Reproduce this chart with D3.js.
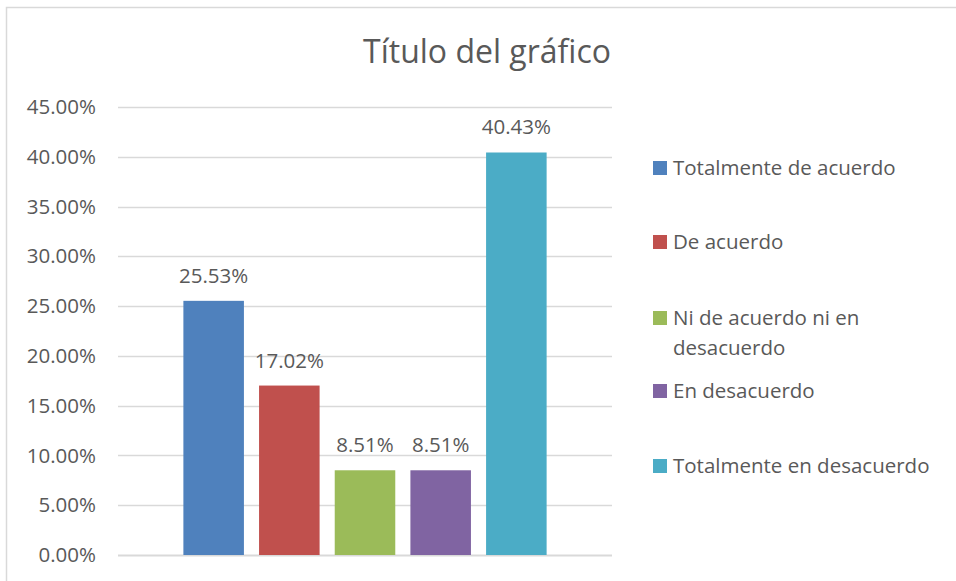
<!DOCTYPE html>
<html>
<head>
<meta charset="utf-8">
<script src="https://cdn.jsdelivr.net/npm/d3@7"></script>
<style>
  body { margin: 0; background: #fff; }
  text { font-family: "Open Sans", sans-serif; fill: #595959; }
</style>
</head>
<body>
<div id="chart"></div>
<script>
// data
var series = ["Totalmente de acuerdo", "De acuerdo", "Ni de acuerdo ni en desacuerdo", "En desacuerdo", "Totalmente en desacuerdo"];
var values = [0.2553, 0.1702, 0.0851, 0.0851, 0.4043];
var colors = ["#4F81BD", "#C0504D", "#9BBB59", "#8064A2", "#4BACC6"];
var legendLines = [["Totalmente de acuerdo"], ["De acuerdo"], ["Ni de acuerdo ni en", "desacuerdo"], ["En desacuerdo"], ["Totalmente en desacuerdo"]];
var yTicks = [0, 0.05, 0.10, 0.15, 0.20, 0.25, 0.30, 0.35, 0.40, 0.45];
var title = "Título del gráfico";

var width = 956, height = 581;
var fontSize = 20.5;

var svg = d3.select("#chart").append("svg")
  .attr("width", width)
  .attr("height", height);

// chart area border (runs off the bottom/right of the picture)
svg.append("rect")
  .attr("x", 6.5).attr("y", 7.5)
  .attr("width", 1000).attr("height", 1000)
  .attr("fill", "none")
  .attr("stroke", "#D9D9D9")
  .attr("stroke-width", 1.5);

var plot = { left: 118, right: 612, top: 107, bottom: 555 };

var y = d3.scaleLinear()
  .domain([0, 0.45])
  .range([plot.bottom, plot.top]);

// one category, five series side by side
var x0 = d3.scaleBand()
  .domain(["g"])
  .range([plot.left, plot.right])
  .paddingOuter(0.18);

var x1 = d3.scaleBand()
  .domain(series)
  .range([0, x0.bandwidth()])
  .paddingInner(0.2);

// gridlines
svg.append("g")
  .selectAll("line")
  .data(yTicks)
  .enter().append("line")
  .attr("x1", plot.left).attr("x2", plot.right)
  .attr("y1", function (d) { return Math.round(y(d)) + 0.5; })
  .attr("y2", function (d) { return Math.round(y(d)) + 0.5; })
  .attr("stroke", "#D9D9D9")
  .attr("stroke-width", function (d) { return d === 0 ? 2 : 1.3; });

// y axis labels
var yAxis = svg.append("g")
  .attr("transform", "translate(" + 96 + ",0)")
  .call(d3.axisLeft(y).tickValues(yTicks).tickSize(0).tickPadding(0).tickFormat(d3.format(".2%")));
yAxis.select(".domain").remove();
yAxis.selectAll("text")
  .attr("font-size", fontSize)
  .attr("fill", "#595959")
  .attr("font-family", "'Open Sans', sans-serif");

// bars
var gx = x0("g");
svg.append("g")
  .selectAll("rect")
  .data(series)
  .enter().append("rect")
  .attr("x", function (d) { return gx + x1(d); })
  .attr("y", function (d, i) { return y(values[i]); })
  .attr("width", x1.bandwidth())
  .attr("height", function (d, i) { return y(0) - y(values[i]); })
  .attr("fill", function (d, i) { return colors[i]; });

// data labels
svg.append("g")
  .selectAll("text")
  .data(series)
  .enter().append("text")
  .attr("x", function (d) { return gx + x1(d) + x1.bandwidth() / 2; })
  .attr("y", function (d, i) { return y(values[i]) - 18; })
  .attr("text-anchor", "middle")
  .attr("font-size", fontSize)
  .text(function (d, i) { return d3.format(".2%")(values[i]); });

// title
svg.append("text")
  .attr("x", 487)
  .attr("y", 63)
  .attr("text-anchor", "middle")
  .attr("font-size", 32)
  .text(title);

// legend
var legendY = [167, 241, 317, 390, 465];
var legend = svg.append("g")
  .selectAll("g")
  .data(series)
  .enter().append("g")
  .attr("transform", function (d, i) { return "translate(653," + legendY[i] + ")"; });

legend.append("rect")
  .attr("x", 0).attr("y", -6)
  .attr("width", 14).attr("height", 14)
  .attr("fill", function (d, i) { return colors[i]; });

legend.append("text")
  .attr("font-size", fontSize)
  .selectAll("tspan")
  .data(function (d, i) { return legendLines[i]; })
  .enter().append("tspan")
  .attr("x", 20)
  .attr("y", function (d, j) { return 8 + j * 30; })
  .text(function (d) { return d; });
</script>
</body>
</html>
